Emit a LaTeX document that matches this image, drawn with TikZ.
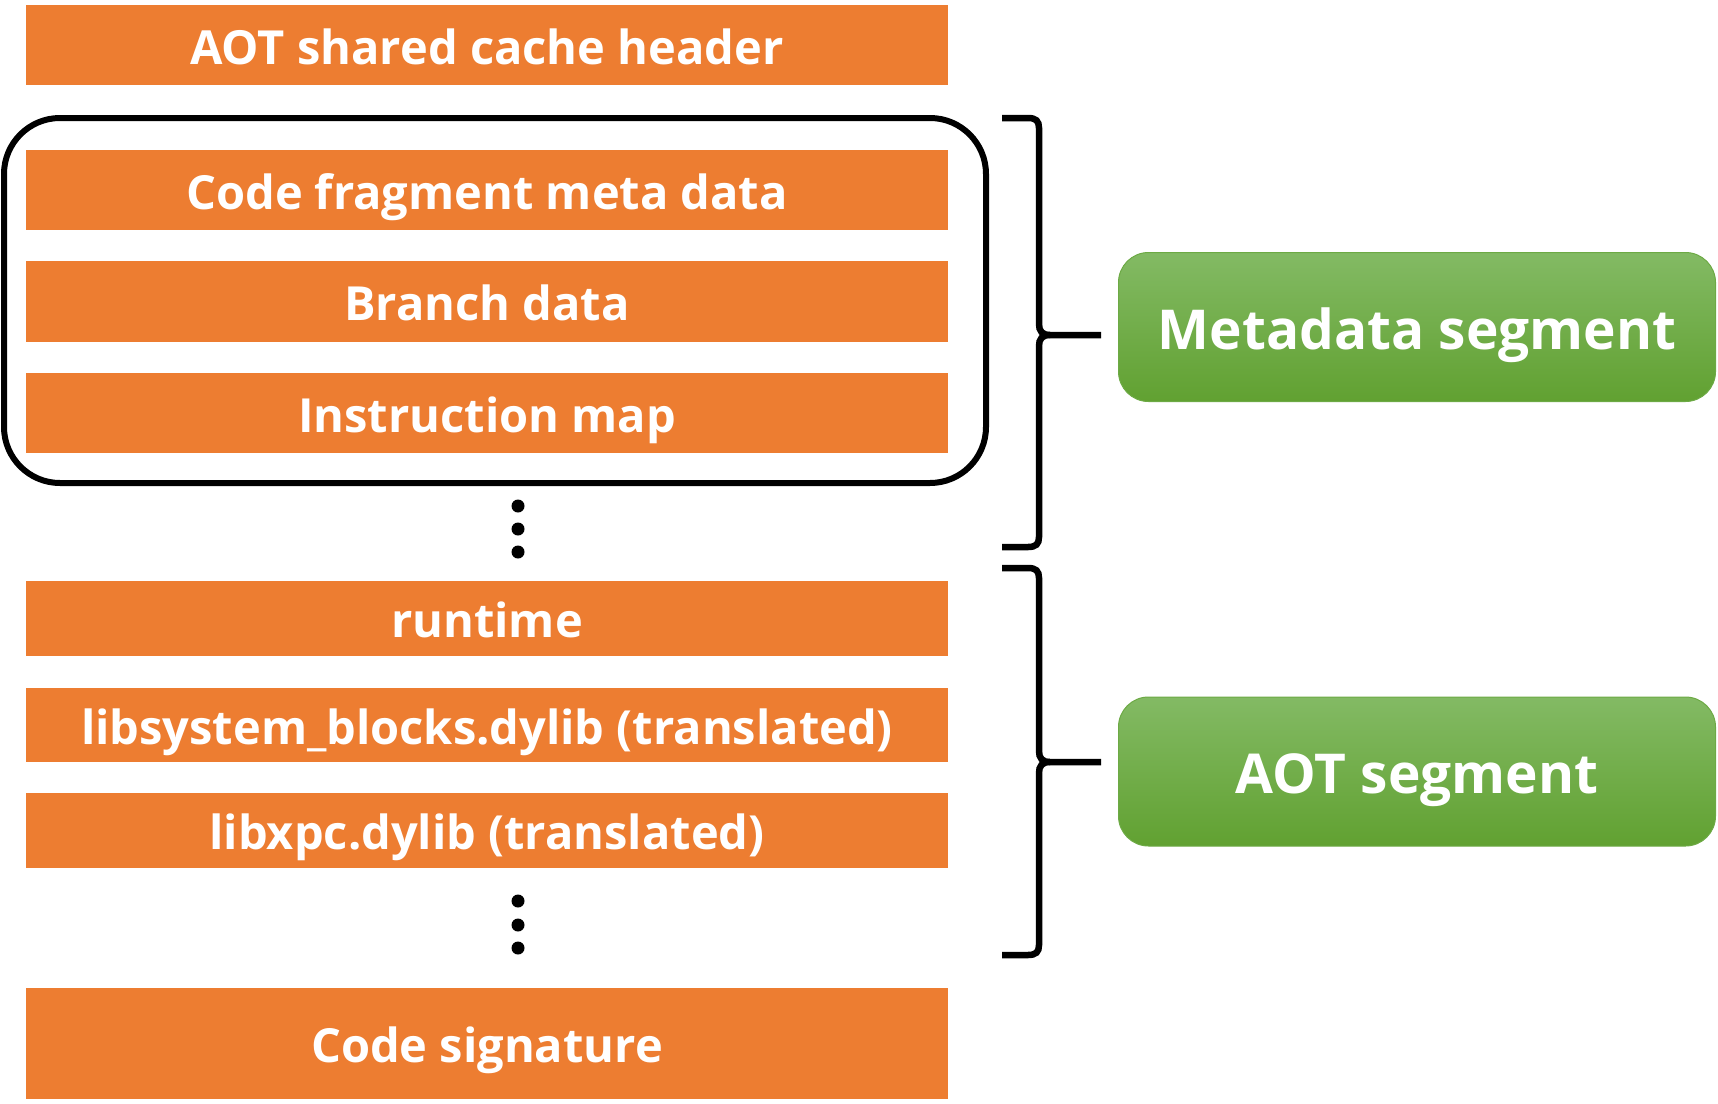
\documentclass[tikz,border=0pt]{standalone}
\usepackage{fontspec}
\setmainfont{Open Sans}
\definecolor{orangefill}{HTML}{ED7D31}
\definecolor{greentop}{HTML}{83BA64}
\definecolor{greenbot}{HTML}{61A131}
\definecolor{greenedge}{HTML}{6DAA45}
\begin{document}
\begin{tikzpicture}[x=1pt,y=-1pt,
  orangebox/.style={fill=orangefill, draw=none, minimum width=922pt, inner sep=0pt,
    text=white, font=\fontsize{47}{57}\selectfont\bfseries, text height=38pt, text depth=0pt},
  greenbox/.style={rounded corners=30pt, top color=greentop, bottom color=greenbot,
    draw=greenedge, line width=1pt, minimum width=597pt, minimum height=149pt, inner sep=0pt,
    text=white, font=\fontsize{55}{65}\selectfont\bfseries, text height=44pt, text depth=0pt},
  frame/.style={draw=black, line width=6pt, rounded corners=56pt, minimum width=982pt, minimum height=365pt, inner sep=0pt},
  dotmark/.style={circle, fill=black, minimum size=13pt, inner sep=0pt},
  bracepath/.style={draw=black, line width=6.5pt}
]
\useasboundingbox (0,0) rectangle (1718,1103);

\node[frame] (frame) at (495,300.5) {};

\node[orangebox, minimum height=80pt] (header) at (487,45) {AOT shared cache header};
\node[orangebox, minimum height=80pt] (codefrag) at (487,190) {Code fragment meta data};
\node[orangebox, minimum height=81pt] (branch) at (487,301.5) {Branch data};
\node[orangebox, minimum height=80pt] (instr) at (487,413) {Instruction map};
\node[orangebox, minimum height=75pt] (runtime) at (487,618.5) {runtime};
\node[orangebox, minimum height=74pt] (libsys) at (487,725) {libsystem\_blocks.dylib (translated)};
\node[orangebox, minimum height=75pt] (libxpc) at (487,830.5) {libxpc.dylib (translated)};
\node[orangebox, minimum height=111pt] (codesig) at (487,1043.5) {Code signature};

\node[dotmark] (da1) at (518,506) {};
\node[dotmark] (da2) at (518,529) {};
\node[dotmark] (da3) at (518,552) {};
\node[dotmark] (db1) at (518,901) {};
\node[dotmark] (db2) at (518,925) {};
\node[dotmark] (db3) at (518,948) {};

\node[greenbox] (meta) at (1417,327) {Metadata segment};
\node[greenbox] (aot) at (1417,771.5) {AOT segment};

% brace 1
\coordinate (b1tip) at (1101,335);
\path[bracepath] (1002,118) -- (1028,118) .. controls (1036,118) and (1039,121) .. (1039,128)
  -- (1039,324) .. controls (1039,331) and (1042,335) .. (1050,335) -- (b1tip);
\path[bracepath] (1050,335) .. controls (1042,335) and (1039,339) .. (1039,346)
  -- (1039,537) .. controls (1039,544) and (1036,547) .. (1028,547) -- (1002,547);
% brace 2
\coordinate (b2tip) at (1101,762);
\path[bracepath] (1002,568) -- (1028,568) .. controls (1036,568) and (1039,571) .. (1039,578)
  -- (1039,751) .. controls (1039,758) and (1042,762) .. (1050,762) -- (b2tip);
\path[bracepath] (1050,762) .. controls (1042,762) and (1039,766) .. (1039,773)
  -- (1039,945) .. controls (1039,952) and (1036,955) .. (1028,955) -- (1002,955);
\end{tikzpicture}
\end{document}
